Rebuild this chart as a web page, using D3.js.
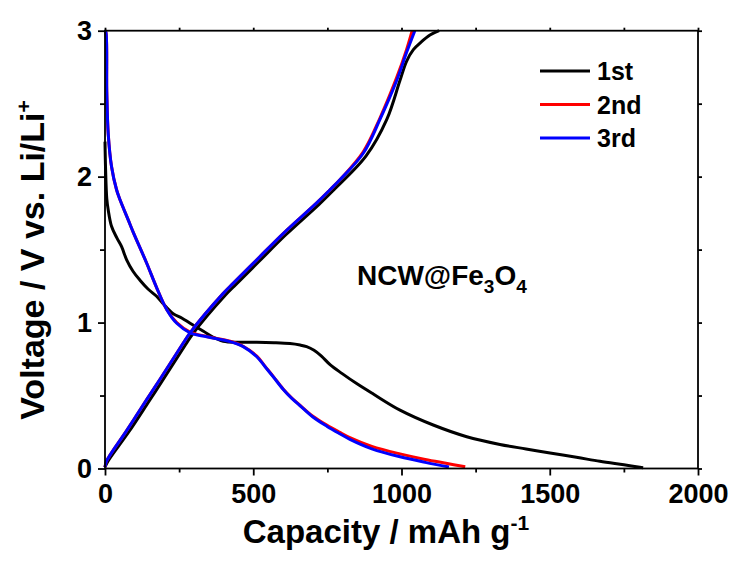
<!DOCTYPE html>
<html>
<head>
<meta charset="utf-8">
<script src="https://cdn.jsdelivr.net/npm/d3@7"></script>
<style>
  body { margin: 0; background: #fff; }
  svg { display: block; font-family: "Liberation Sans", Arial, sans-serif; font-weight: bold; }
</style>
</head>
<body>
<div id="chart"></div>
<script>
// capacity (mAh/g) and voltage (V)
const cycleNames = ["1st", "2nd", "3rd"];
const cycleColors = ["#000000", "#ff0000", "#0000ff"];

const dis1Cap = [0, 2, 6, 11, 22, 40, 56, 73, 95, 118, 145, 174, 200, 230, 260, 287, 332, 370, 399, 450, 512, 570, 624, 658, 680, 705, 730, 760, 800, 850, 905, 995, 1107, 1220, 1332, 1420, 1501, 1590, 1669, 1750, 1815];
const dis1V   = [2.24, 2.05, 1.85, 1.77, 1.66, 1.58, 1.52, 1.43, 1.35, 1.29, 1.23, 1.18, 1.12, 1.06, 1.03, 0.995, 0.94, 0.895, 0.872, 0.865, 0.865, 0.862, 0.856, 0.846, 0.835, 0.81, 0.77, 0.71, 0.65, 0.58, 0.51, 0.40, 0.298, 0.218, 0.165, 0.134, 0.106, 0.077, 0.049, 0.025, 0.005];

const dis2Cap = [0, 3, 6, 11, 22, 39, 51, 79, 95, 140, 174, 208, 242, 287, 343, 422, 466, 512, 540, 568, 600, 630, 658, 700, 748, 790, 826, 900, 995, 1080, 1150, 1215];
const dis2V   = [3.0, 2.99, 2.58, 2.29, 2.07, 1.91, 1.84, 1.70, 1.62, 1.41, 1.24, 1.09, 1.0, 0.935, 0.905, 0.872, 0.838, 0.77, 0.70, 0.63, 0.547, 0.483, 0.433, 0.36, 0.297, 0.25, 0.212, 0.152, 0.10, 0.062, 0.036, 0.012];

const dis3Cap = [0, 3, 6, 11, 22, 39, 51, 79, 95, 140, 174, 208, 242, 287, 343, 422, 466, 512, 540, 568, 600, 630, 658, 700, 748, 790, 826, 900, 995, 1080, 1160];
const dis3V   = [3.0, 2.99, 2.58, 2.29, 2.07, 1.91, 1.84, 1.70, 1.62, 1.41, 1.24, 1.09, 0.995, 0.93, 0.903, 0.869, 0.835, 0.766, 0.697, 0.627, 0.545, 0.48, 0.43, 0.355, 0.29, 0.24, 0.20, 0.135, 0.08, 0.042, 0.01];

const chg1Cap = [0, 10, 80, 148, 193, 272, 295, 407, 441, 520, 609, 722, 767, 880, 950, 995, 1017, 1040, 1065, 1096, 1127];
const chg1V   = [0.01, 0.05, 0.25, 0.46, 0.60, 0.85, 0.92, 1.19, 1.26, 1.42, 1.60, 1.81, 1.90, 2.14, 2.39, 2.66, 2.79, 2.87, 2.92, 2.97, 3.0];

const chg2Cap = [0, 5, 73, 140, 185, 264, 287, 399, 433, 512, 601, 714, 759, 793, 871, 927, 984, 1017, 1036];
const chg2V   = [0.01, 0.05, 0.26, 0.47, 0.61, 0.86, 0.93, 1.20, 1.27, 1.43, 1.61, 1.82, 1.91, 1.98, 2.17, 2.40, 2.68, 2.87, 3.0];

const chg3Cap = [0, 5, 73, 140, 185, 264, 287, 399, 433, 512, 601, 714, 759, 793, 871, 927, 984, 1017, 1045];
const chg3V   = [0.01, 0.05, 0.26, 0.47, 0.61, 0.86, 0.93, 1.20, 1.27, 1.43, 1.61, 1.82, 1.91, 1.98, 2.16, 2.39, 2.66, 2.85, 3.0];

const xTicks = [0, 500, 1000, 1500, 2000];
const xMinor = [250, 750, 1250, 1750];
const yTicks = [0, 1, 2, 3];
const yMinor = [0.5, 1.5, 2.5];

const width = 734, height = 561;
const plotL = 105, plotR = 698, plotT = 30.7, plotB = 468.5;

const x = d3.scaleLinear().domain([0, 2000]).range([plotL, plotR]);
const y = d3.scaleLinear().domain([0, 3]).range([plotB, plotT]);

const svg = d3.select("#chart").append("svg")
    .attr("width", width)
    .attr("height", height);

function pts(cap, v) { return cap.map((c, i) => [c, v[i]]); }

const curves = [
    { cycle: 0, data: pts(dis1Cap, dis1V) },
    { cycle: 0, data: pts(chg1Cap, chg1V) },
    { cycle: 1, data: pts(dis2Cap, dis2V) },
    { cycle: 1, data: pts(chg2Cap, chg2V) },
    { cycle: 2, data: pts(dis3Cap, dis3V) },
    { cycle: 2, data: pts(chg3Cap, chg3V) }
];

const lineC = d3.line()
    .x(d => x(d[0]))
    .y(d => y(d[1]))
    .curve(d3.curveCatmullRom.alpha(0.5));

svg.append("g")
  .selectAll("path")
  .data(curves)
  .join("path")
    .attr("d", d => lineC(d.data))
    .attr("fill", "none")
    .attr("stroke", d => cycleColors[d.cycle])
    .attr("stroke-width", 3)
    .attr("stroke-linejoin", "round");

// axes (box with ticks outward on all sides)
const axisG = svg.append("g");
axisG.append("rect")
    .attr("x", plotL).attr("y", plotT)
    .attr("width", plotR - plotL).attr("height", plotB - plotT)
    .attr("fill", "none").attr("stroke", "#000").attr("stroke-width", 1.8);

axisG.append("g").attr("transform", `translate(0,${plotB})`)
    .call(d3.axisBottom(x).tickValues(xTicks).tickSize(7).tickPadding(8).tickFormat(d3.format("d")));
axisG.append("g").attr("transform", `translate(0,${plotB})`)
    .call(d3.axisBottom(x).tickValues(xMinor).tickSize(4).tickFormat(""));
axisG.append("g").attr("transform", `translate(0,${plotT})`)
    .call(d3.axisTop(x).tickValues(xTicks.concat(xMinor)).tickSize(3).tickFormat(""));
axisG.append("g").attr("transform", `translate(${plotL},0)`)
    .call(d3.axisLeft(y).tickValues(yTicks).tickSize(7).tickPadding(6).tickFormat(d3.format("d")));
axisG.append("g").attr("transform", `translate(${plotL},0)`)
    .call(d3.axisLeft(y).tickValues(yMinor).tickSize(5).tickFormat(""));
axisG.append("g").attr("transform", `translate(${plotR},0)`)
    .call(d3.axisRight(y).tickValues(yTicks.concat(yMinor)).tickSize(4).tickFormat(""));

axisG.selectAll(".domain").remove();
axisG.selectAll(".tick line").attr("stroke", "#000").attr("stroke-width", 1.8);
axisG.selectAll(".tick text")
    .attr("fill", "#000")
    .style("font-family", '"Liberation Sans", Arial, sans-serif')
    .style("font-weight", "bold")
    .style("font-size", "27px");

// axis titles
const xTitle = svg.append("text")
    .attr("x", 386)
    .attr("y", 543)
    .attr("text-anchor", "middle")
    .style("font-size", "33px");
xTitle.append("tspan").text("Capacity / mAh g");
xTitle.append("tspan").attr("dy", -13).style("font-size", "21px").text("-1");

const yTitle = svg.append("text")
    .attr("transform", "translate(43.5,260) rotate(-90)")
    .attr("text-anchor", "middle")
    .style("font-size", "34px");
yTitle.append("tspan").text("Voltage / V vs. Li/Li");
yTitle.append("tspan").attr("dy", -13).style("font-size", "21px").text("+");

// legend
const legend = svg.append("g").attr("transform", "translate(540,71)");
const item = legend.selectAll("g")
  .data(cycleNames)
  .join("g")
    .attr("transform", (d, i) => `translate(0,${i * 33.5})`);
item.append("line")
    .attr("x1", 0).attr("x2", 50)
    .attr("stroke", (d, i) => cycleColors[i])
    .attr("stroke-width", 3);
item.append("text")
    .attr("x", 57).attr("y", 9)
    .style("font-size", "25px")
    .text(d => d);

// sample label
const note = svg.append("text")
    .attr("x", 357).attr("y", 285)
    .style("font-size", "28px");
note.append("tspan").text("NCW@Fe");
note.append("tspan").attr("dy", 8).style("font-size", "19px").text("3");
note.append("tspan").attr("dy", -8).text("O");
note.append("tspan").attr("dy", 8).style("font-size", "19px").text("4");
</script>
</body>
</html>
